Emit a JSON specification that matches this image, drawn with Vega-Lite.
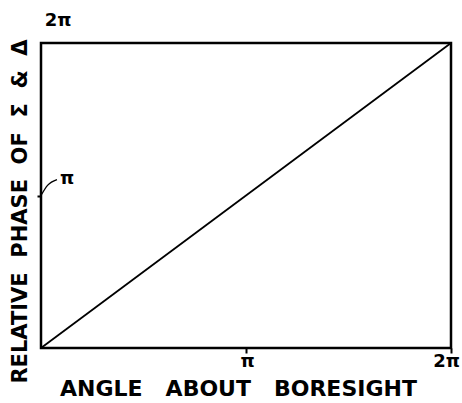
{
  "$schema": "https://vega.github.io/schema/vega-lite/v6.json",
  "width": 410,
  "height": 305,
  "autosize": {"type": "none"},
  "padding": {"left": 41, "top": 43, "right": 11, "bottom": 55},
  "background": "white",
  "config": {
    "view": {"stroke": "black", "strokeWidth": 2.5},
    "font": "DejaVu Sans"
  },
  "datasets": {
    "line": [{"angle": 0, "phase": 0}, {"angle": 6.2832, "phase": 6.2832}],
    "ylabels": [{"angle": 0, "phase": 3.1416, "label": "π"}, {"angle": 0, "phase": 6.2832, "label": "2π"}]
  },
  "layer": [
    {
      "data": {"name": "line"},
      "mark": {"type": "line", "color": "black", "strokeWidth": 1.8},
      "encoding": {
        "x": {
          "field": "angle", "type": "quantitative",
          "scale": {"domain": [0, 6.2832], "nice": false, "zero": false},
          "axis": {
            "values": [3.1416, 6.2832],
            "labelExpr": "datum.value < 4 ? 'π' : '2π'",
            "domain": false, "grid": false,
            "ticks": true, "tickSize": 5, "tickColor": "black", "tickWidth": 2,
            "labelFont": "DejaVu Sans", "labelFontWeight": "bold", "labelFontSize": 18, "labelColor": "black",
            "labelPadding": -1, "labelFlush": false,
            "labelOffset": {"condition": {"test": "datum.value > 4", "value": -5}, "value": 1},
            "title": "ANGLE\u00a0\u00a0\u00a0ABOUT\u00a0\u00a0\u00a0BORESIGHT",
            "titleFont": "DejaVu Sans", "titleFontWeight": "bold", "titleFontSize": 22, "titleColor": "black",
            "titleBaseline": "middle", "titleY": 40, "titleX": 197, "titleAnchor": null
          }
        },
        "y": {
          "field": "phase", "type": "quantitative",
          "scale": {"domain": [0, 6.2832], "nice": false, "zero": false},
          "axis": {
            "values": [3.1416],
            "labels": false, "domain": false, "grid": false,
            "ticks": true, "tickSize": 4, "tickColor": "black", "tickWidth": 2,
            "title": "RELATIVE\u00a0\u00a0PHASE\u00a0\u00a0OF\u00a0\u00a0Σ\u00a0\u00a0&\u00a0\u00a0Δ",
            "titleFont": "DejaVu Sans", "titleFontWeight": "bold", "titleFontSize": 21, "titleColor": "black",
            "titleAngle": -90, "titleBaseline": "middle", "titleX": -21, "titleY": 168, "titleAnchor": null
          }
        }
      }
    },
    {
      "data": {"name": "ylabels"},
      "transform": [{"filter": "datum.label == 'π'"}],
      "mark": {"type": "text", "font": "DejaVu Sans", "fontWeight": "bold", "fontSize": 18, "color": "black", "dx": 26, "dy": -17, "align": "center", "baseline": "middle"},
      "encoding": {
        "x": {"field": "angle", "type": "quantitative"},
        "y": {"field": "phase", "type": "quantitative"},
        "text": {"field": "label"}
      }
    },
    {
      "data": {"name": "ylabels"},
      "transform": [{"filter": "datum.label == '2π'"}],
      "mark": {"type": "text", "font": "DejaVu Sans", "fontWeight": "bold", "fontSize": 18, "color": "black", "dx": 17, "dy": -22, "align": "center", "baseline": "middle"},
      "encoding": {
        "x": {"field": "angle", "type": "quantitative"},
        "y": {"field": "phase", "type": "quantitative"},
        "text": {"field": "label"}
      }
    },
    {
      "data": {"values": [{"angle": 0, "phase": 3.1416}, {"angle": 0.1, "phase": 3.35}, {"angle": 0.245, "phase": 3.47}]},
      "mark": {"type": "line", "color": "black", "strokeWidth": 1.3, "interpolate": "monotone"},
      "encoding": {
        "x": {"field": "angle", "type": "quantitative"},
        "y": {"field": "phase", "type": "quantitative"}
      }
    }
  ]
}
